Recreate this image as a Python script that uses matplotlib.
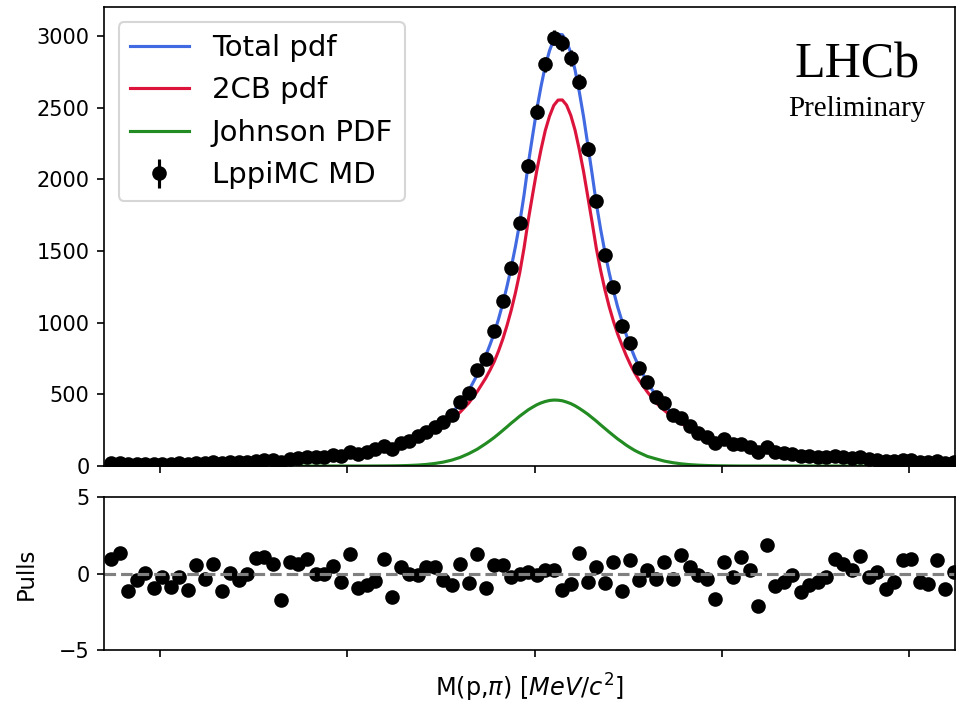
import numpy as np
import matplotlib
matplotlib.use("Agg")
import matplotlib.pyplot as plt

# histogram binning in MeV (bins run a little past the right edge of the plot)
bin_lo, bin_hi, n_bins = 1103.58, 1126.31, 100
x_view = (1103.50, 1126.23)
x_ticks = [1105, 1110, 1115, 1120, 1125]

counts = [19, 22, 12, 15, 17, 14, 17, 15, 18, 15,
          24, 20, 26, 19, 26, 26, 30, 38, 42, 42,
          31, 51, 55, 62, 60, 65, 77, 70, 100, 84,
          100, 119, 142, 119, 163, 177, 209, 239, 274, 309,
          356, 449, 511, 670, 744, 944, 1151, 1379, 1697, 2095,
          2472, 2802, 2988, 2949, 2845, 2679, 2212, 1849, 1470, 1251,
          977, 860, 684, 588, 484, 437, 356, 333, 279, 232,
          204, 163, 186, 153, 153, 130, 100, 135, 100, 89,
          84, 69, 68, 65, 64, 70, 63, 57, 60, 47,
          45, 36, 37, 43, 42, 31, 28, 35, 24, 29]

pulls = [0.93, 1.38, -1.12, -0.42, 0.05, -0.93, -0.2, -0.86, -0.2, -1.08,
         0.55, -0.32, 0.66, -1.12, 0.05, -0.42, 0.0, 1.05, 1.1, 0.6,
         -1.73, 0.77, 0.66, 0.99, 0.0, 0.0, 0.49, -0.53, 1.32, -0.97,
         -0.75, -0.49, 0.93, -1.56, 0.45, 0.0, -0.1, 0.45, 0.45, -0.42,
         -0.75, 0.6, -0.64, 1.32, -0.93, 0.55, 0.55, -0.2, 0.0, 0.1,
         -0.1, 0.23, 0.23, -1.09, -0.65, 1.37, -0.55, 0.44, -0.61, 0.76,
         -1.15, 0.87, -0.39, 0.22, -0.33, 0.76, -0.33, 1.2, 0.44, -0.1,
         -0.33, -1.63, 0.76, -0.22, 1.09, 0.22, -2.14, 1.85, -0.83, -0.55,
         -0.11, -1.2, -0.76, -0.55, -0.22, 0.98, 0.65, 0.22, 1.13, -0.22,
         0.11, -0.98, -0.55, 0.87, 0.98, -0.55, -0.65, 0.87, -0.98, 0.1]

# fitted components, read at the bin centres
cb2_pdf = [16, 16.5, 17, 17.5, 18, 18.5, 19, 19.5, 20, 21,
           22, 23, 24.5, 26, 28, 30, 32, 35, 38, 41,
           44, 48, 52, 56, 61, 66, 72, 78, 86, 94,
           104, 115, 126, 139, 155, 173, 193, 219, 250, 287,
           328, 376, 439, 519, 613, 728, 884, 1087, 1349, 1715,
           2060, 2340, 2515, 2553, 2445, 2206, 1877, 1517, 1231, 1011,
           845, 707, 600, 516, 441, 387, 339, 296, 262, 228,
           204, 186, 171, 157, 145, 134, 124, 114, 105, 97,
           89, 82, 76, 71, 66, 62, 58, 55, 52, 49,
           46, 44, 42, 40, 38, 36, 34, 32, 30, 29]

johnson_pdf = [0, 0, 0, 0, 0, 0, 0, 0, 0, 0,
               0, 0, 0, 0, 0, 0, 0, 0, 0, 0,
               0, 0, 0, 0, 0, 0, 0, 0, 0, 0,
               0, 0.3, 0.6, 1.1, 2.1, 3.8, 6.5, 10.9, 17.5, 27,
               41, 60, 86, 117, 156, 199, 248, 299, 348, 392,
               427, 450, 460, 455, 435, 402, 361, 313, 262, 213,
               168, 127, 94, 67, 50, 34, 23, 15, 9.5, 5.8,
               3.4, 2, 1.1, 0.5, 0, 0, 0, 0, 0, 0,
               0, 0, 0, 0, 0, 0, 0, 0, 0, 0,
               0, 0, 0, 0, 0, 0, 0, 0, 0, 0]

# extra readings half a bin right of bins 44..61, where the peak bends
mid_first = 44
cb2_mid = [668, 801, 980, 1210, 1519, 1890, 2208, 2440, 2552,
           2517, 2342, 2053, 1701, 1365, 1113, 921, 772, 650]
johnson_mid = [177, 223, 273, 323, 370, 410, 440, 457, 459,
               446, 420, 382, 337, 287, 237, 189, 146, 109]

edges = np.linspace(bin_lo, bin_hi, n_bins + 1)
centers = 0.5 * (edges[1:] + edges[:-1])
width = edges[1] - edges[0]
counts = np.array(counts, dtype=float)

x_mid = centers[mid_first:mid_first + len(cb2_mid)] + width / 2
curve_x = np.concatenate([centers, x_mid])
order = np.argsort(curve_x)
curve_x = curve_x[order]
cb2_curve = np.concatenate([cb2_pdf, cb2_mid])[order]
johnson_curve = np.concatenate([johnson_pdf, johnson_mid])[order]
total_curve = cb2_curve + johnson_curve

fig = plt.figure(figsize=(956 / 150, 705 / 150), dpi=150)
ax = fig.add_axes([0.1088, 0.3390, 0.8902, 0.6504])
axp = fig.add_axes([0.1088, 0.0780, 0.8902, 0.2166], sharex=ax)

ax.plot(curve_x, total_curve, color="royalblue", label="Total pdf")
ax.plot(curve_x, cb2_curve, color="crimson", label="2CB pdf")
ax.plot(curve_x, johnson_curve, color="forestgreen", label="Johnson PDF")
ax.errorbar(centers, counts, yerr=np.sqrt(counts), fmt="o", color="black",
            label="LppiMC MD")
ax.set_ylim(0, 3198)
ax.set_xlim(*x_view)
ax.set_xticks(x_ticks)
ax.tick_params(labelbottom=False)
ax.legend(loc="upper left", fontsize=14)
ax.text(0.885, 0.875, "LHCb", transform=ax.transAxes, ha="center", va="center",
        fontsize=24, family="Liberation Serif")
ax.text(0.885, 0.779, "Preliminary", transform=ax.transAxes, ha="center",
        va="center", fontsize=14, family="Liberation Serif")

axp.plot(centers, pulls, "o", color="black")
axp.axhline(0, color="gray", ls="--")
axp.set_ylim(-5, 5)
axp.set_yticks([-5, 0, 5])
axp.set_ylabel("Pulls", fontsize=11, labelpad=10)
axp.set_xlabel(r"M(p,$\pi$) [$MeV/c^2$]", fontsize=11.5, labelpad=7)
axp.tick_params(labelbottom=False)

fig.savefig("out.png", dpi=150)
